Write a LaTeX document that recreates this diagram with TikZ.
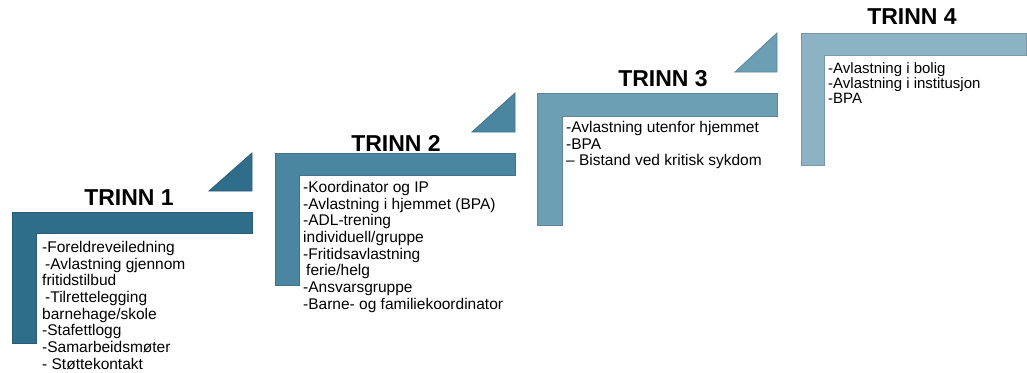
\documentclass[tikz,border=0pt]{standalone}
\usepackage{fontspec}
\setmainfont{Liberation Sans}
\definecolor{cA}{HTML}{2F6E8B}
\definecolor{cB}{HTML}{4B86A1}
\definecolor{cC}{HTML}{6C9EB4}
\definecolor{cD}{HTML}{8DB2C4}
\begin{document}
\begin{tikzpicture}[x=1pt,y=-1pt,
  stair/.style={line width=0.8pt,line join=miter},
  head/.style={font=\fontsize{23}{26}\selectfont\bfseries,inner sep=0pt,anchor=center},
  items/.style={font=\fontsize{15.5}{16.7}\selectfont,align=left,inner sep=0pt,anchor=north west},
  itemsB/.style={font=\fontsize{15}{15.2}\selectfont,align=left,inner sep=0pt,anchor=north west}]
\useasboundingbox (0,0) rectangle (1027,372);
% step 1
\draw[stair,fill=cA,draw=cA!85!black] (12,212) -- (252,212) -- (252,233) -- (36,233) -- (36,343) -- (12,343) -- cycle;
\draw[stair,fill=cA,draw=cA!85!black] (209,191) -- (252,191) -- (252,153) -- cycle;
% step 2
\draw[stair,fill=cB,draw=cB!85!black] (275,153) -- (515,153) -- (515,175) -- (299,175) -- (299,285) -- (275,285) -- cycle;
\draw[stair,fill=cB,draw=cB!85!black] (472,132) -- (515,132) -- (515,93) -- cycle;
% step 3
\draw[stair,fill=cC,draw=cC!85!black] (537,93) -- (777,93) -- (777,116) -- (562,116) -- (562,225) -- (537,225) -- cycle;
\draw[stair,fill=cC,draw=cC!85!black] (735,72) -- (777,72) -- (777,33) -- cycle;
% step 4
\draw[stair,fill=cD,draw=cD!85!black] (801,33) -- (1026,33) -- (1026,55) -- (824,55) -- (824,165) -- (801,165) -- cycle;
% headers
\node[head] (h1) at (129,198) {TRINN 1};
\node[head] (h2) at (396,143) {TRINN 2};
\node[head] (h3) at (663,79) {TRINN 3};
\node[head] (h4) at (912,17) {TRINN 4};
% lists
\node[items] (t1) at (42,241) {-Foreldreveiledning\\
\hspace*{3pt}-Avlastning gjennom\\
fritidstilbud\\
\hspace*{3pt}-Tilrettelegging\\
barnehage/skole\\
-Stafettlogg\\
-Samarbeidsmøter\\
- Støttekontakt};
\node[items] (t2) at (303,181) {-Koordinator og IP\\
-Avlastning i hjemmet (BPA)\\
-ADL-trening\\
individuell/gruppe\\
-Fritidsavlastning\\
\hspace*{3pt}ferie/helg\\
-Ansvarsgruppe\\
-Barne- og familiekoordinator};
\node[items] (t3) at (566,121) {-Avlastning utenfor hjemmet\\
-BPA\\
– Bistand ved kritisk sykdom};
\node[itemsB] (t4) at (828,62) {-Avlastning i bolig\\
-Avlastning i institusjon\\
-BPA};
\end{tikzpicture}
\end{document}
